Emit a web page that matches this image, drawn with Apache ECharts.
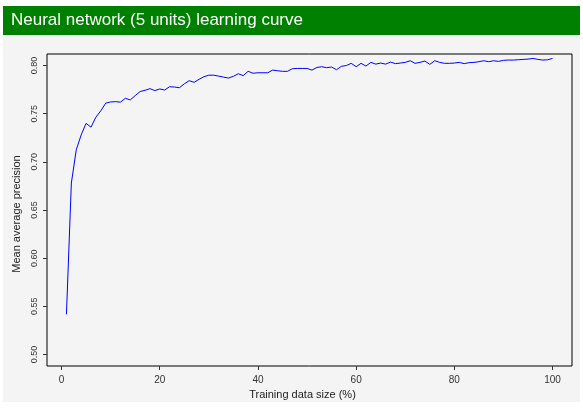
<!DOCTYPE html>
<html>
<head>
<meta charset="utf-8">
<script src="https://cdn.jsdelivr.net/npm/echarts@6/dist/echarts.min.js"></script>
<style>
html,body{margin:0;padding:0;background:#ffffff;}
#chart{width:583px;height:415px;}
</style>
</head>
<body>
<div id="chart"></div>
<script>
var titleText = 'Neural network (5 units) learning curve';
var xAxisTitle = 'Training data size (%)';
var yAxisTitle = 'Mean average precision';
var trainingSize = [1,2,3,4,5,6,7,8,9,10,11,12,13,14,15,16,17,18,19,20,21,22,23,24,25,26,27,28,29,30,31,32,33,34,35,36,37,38,39,40,41,42,43,44,45,46,47,48,49,50,51,52,53,54,55,56,57,58,59,60,61,62,63,64,65,66,67,68,69,70,71,72,73,74,75,76,77,78,79,80,81,82,83,84,85,86,87,88,89,90,91,92,93,94,95,96,97,98,99,100];
var precision = [0.5417,0.678,0.7125,0.728,0.740,0.736,0.7464,0.753,0.761,0.7622,
0.7625,0.762,0.766,0.7643,0.7688,0.773,0.7743,0.776,0.774,0.7757,
0.7746,0.778,0.7777,0.777,0.781,0.7843,0.7826,0.7857,0.7884,0.790,
0.790,0.789,0.788,0.787,0.7888,0.7915,0.7895,0.794,0.792,0.7925,
0.7925,0.7925,0.7953,0.7946,0.794,0.794,0.7967,0.797,0.797,0.797,
0.7953,0.798,0.7988,0.7978,0.7985,0.7957,0.7992,0.800,0.8023,0.7988,
0.8023,0.7995,0.8033,0.8015,0.8026,0.8015,0.8036,0.802,0.8026,0.8033,
0.805,0.8023,0.8033,0.8047,0.8012,0.805,0.8033,0.8023,0.8023,0.8026,
0.8033,0.802,0.803,0.8033,0.804,0.805,0.804,0.805,0.8043,0.8054,
0.8057,0.8057,0.806,0.8064,0.8067,0.8074,0.8064,0.8057,0.806,0.8074];
var xTicks = [0,20,40,60,80,100];
var yTicks = [0.50,0.55,0.60,0.65,0.70,0.75,0.80];

var seriesData = trainingSize.map(function(x,i){return [x, precision[i]];});
var chart = echarts.init(document.getElementById('chart'), null, {renderer:'canvas'});
chart.setOption({
  animation:false,
  backgroundColor:'#ffffff',
  graphic:[
    {type:'rect', shape:{x:3,y:6,width:577,height:396}, style:{fill:'#f4f4f4'}, z:-10},
    {type:'rect', shape:{x:3,y:6,width:577,height:29}, style:{fill:'#008000'}, z:-9}
  ],
  title:{text:titleText, left:11, top:12, padding:0,
    textStyle:{color:'#ffffff', fontFamily:'Liberation Sans, Arial, sans-serif', fontSize:17, fontWeight:'normal'}},
  grid:{left:47, top:54, width:525, height:312, show:true, backgroundColor:'transparent', borderColor:'#000000', borderWidth:1},
  xAxis:{type:'value', min:-2.96, max:103.96,
    name:xAxisTitle, nameLocation:'middle', nameGap:23,
    nameTextStyle:{color:'#222', fontSize:11, fontFamily:'Liberation Sans, Arial, sans-serif', padding:[0,14,0,0]},
    axisLine:{show:false, onZero:false},
    axisTick:{show:true, length:4, customValues:xTicks, lineStyle:{color:'#333'}},
    axisLabel:{show:true, customValues:xTicks, margin:9, color:'#333', fontSize:10, fontFamily:'Liberation Sans, Arial, sans-serif'},
    splitLine:{show:false}},
  yAxis:{type:'value', min:0.488, max:0.812,
    name:yAxisTitle, nameLocation:'middle', nameGap:22,
    nameTextStyle:{color:'#222', fontSize:11, fontFamily:'Liberation Sans, Arial, sans-serif', padding:[0,8,0,0]},
    axisLine:{show:false, onZero:false},
    axisTick:{show:true, length:4, customValues:yTicks, lineStyle:{color:'#333'}},
    axisLabel:{show:true, customValues:yTicks, rotate:90, margin:8, color:'#333', fontSize:9, fontFamily:'Liberation Sans, Arial, sans-serif',
      formatter:function(v){return v.toFixed(2);}},
    splitLine:{show:false}},
  series:[{type:'line', data:seriesData, showSymbol:false, symbol:'none',
    lineStyle:{color:'#0000ff', width:1}, clip:true}]
});
</script>
</body>
</html>
